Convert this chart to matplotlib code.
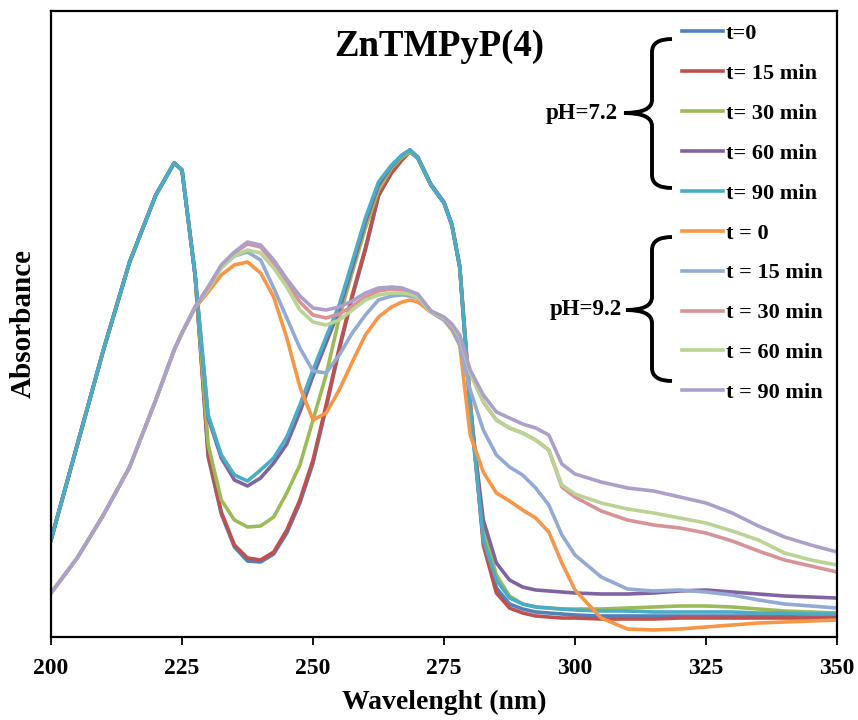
import matplotlib
matplotlib.use('Agg')
import matplotlib.pyplot as plt
import matplotlib.transforms as mtransforms
from matplotlib.path import Path
from matplotlib.patches import PathPatch

# data ==========================================================================
wl = [200, 205, 210, 215, 220, 223.5, 225, 227.5, 230, 232.5, 235, 237.5,
      240, 242.5, 245, 247.5, 250, 252.5, 255, 257.5, 260, 262.5, 265, 267,
      268.5, 270, 272.5, 275, 276.5, 278, 280, 282.5, 285, 287.5, 290, 292.5,
      295, 297.5, 300, 305, 310, 315, 320, 325, 330, 335, 340, 345, 350]

# pH = 7.2 (first part, 200-227.5 nm, is the same for all times)
head_72 = [0.194, 0.384, 0.574, 0.750, 0.884, 0.948, 0.934, 0.724]
ph72_t0 = head_72 + [0.360, 0.246, 0.180, 0.152, 0.150, 0.166, 0.208, 0.268, 0.348, 0.458,
                     0.574, 0.680, 0.774, 0.882, 0.930, 0.958, 0.974, 0.960, 0.906, 0.870,
                     0.826, 0.742, 0.464, 0.194, 0.098, 0.066, 0.056, 0.050, 0.048, 0.046,
                     0.044, 0.042, 0.042, 0.042, 0.042, 0.042, 0.042, 0.042, 0.042, 0.042, 0.042]
ph72_t15 = head_72 + [0.364, 0.250, 0.184, 0.158, 0.154, 0.170, 0.214, 0.274, 0.354, 0.464,
                      0.578, 0.684, 0.778, 0.884, 0.928, 0.954, 0.970, 0.958, 0.904, 0.868,
                      0.824, 0.740, 0.474, 0.184, 0.088, 0.058, 0.048, 0.042, 0.040, 0.038,
                      0.038, 0.036, 0.036, 0.036, 0.038, 0.038, 0.038, 0.038, 0.038, 0.038, 0.038]
ph72_t30 = head_72 + [0.384, 0.274, 0.234, 0.220, 0.222, 0.240, 0.288, 0.344, 0.434, 0.524,
                      0.638, 0.730, 0.818, 0.894, 0.938, 0.960, 0.970, 0.958, 0.904, 0.868,
                      0.824, 0.740, 0.464, 0.214, 0.124, 0.082, 0.066, 0.060, 0.058, 0.056,
                      0.056, 0.056, 0.058, 0.060, 0.062, 0.062, 0.060, 0.056, 0.052, 0.050, 0.048]
ph72_t60 = head_72 + [0.438, 0.358, 0.314, 0.302, 0.318, 0.348, 0.386, 0.450, 0.522, 0.588,
                      0.654, 0.740, 0.830, 0.904, 0.942, 0.964, 0.974, 0.958, 0.904, 0.868,
                      0.824, 0.740, 0.454, 0.234, 0.148, 0.114, 0.100, 0.094, 0.092, 0.090,
                      0.088, 0.086, 0.086, 0.088, 0.092, 0.094, 0.090, 0.086, 0.082, 0.080, 0.078]
ph72_t90 = head_72 + [0.444, 0.364, 0.324, 0.312, 0.334, 0.358, 0.400, 0.464, 0.534, 0.600,
                      0.664, 0.750, 0.838, 0.910, 0.944, 0.964, 0.974, 0.958, 0.904, 0.868,
                      0.824, 0.740, 0.454, 0.194, 0.114, 0.078, 0.066, 0.060, 0.058, 0.056,
                      0.054, 0.052, 0.052, 0.050, 0.050, 0.050, 0.050, 0.048, 0.048, 0.046, 0.046]

# pH = 9.2 (200-225 nm is the same for all times)
head_92 = [0.088, 0.158, 0.244, 0.340, 0.474, 0.574, 0.608]
ph92_t0 = head_92 + [0.658, 0.690, 0.724, 0.744, 0.750, 0.728, 0.680, 0.598, 0.500, 0.434, 0.448,
                     0.494, 0.550, 0.604, 0.640, 0.660, 0.670, 0.674, 0.670, 0.650, 0.634,
                     0.614, 0.584, 0.404, 0.330, 0.288, 0.272, 0.254, 0.238, 0.210, 0.148,
                     0.094, 0.038, 0.016, 0.014, 0.016, 0.020, 0.024, 0.028, 0.030, 0.032, 0.034]
ph92_t15 = head_92 + [0.660, 0.698, 0.740, 0.762, 0.770, 0.754, 0.698, 0.638, 0.578, 0.532, 0.528,
                      0.564, 0.608, 0.644, 0.674, 0.682, 0.684, 0.682, 0.678, 0.650, 0.634,
                      0.618, 0.584, 0.494, 0.414, 0.364, 0.340, 0.324, 0.298, 0.264, 0.204,
                      0.164, 0.120, 0.096, 0.092, 0.094, 0.090, 0.084, 0.074, 0.066, 0.062, 0.058]
ph92_t30 = head_92 + [0.660, 0.700, 0.742, 0.768, 0.786, 0.780, 0.748, 0.708, 0.670, 0.644, 0.638,
                      0.646, 0.662, 0.680, 0.692, 0.696, 0.694, 0.690, 0.684, 0.652, 0.638,
                      0.624, 0.600, 0.528, 0.470, 0.434, 0.418, 0.408, 0.394, 0.374, 0.300,
                      0.280, 0.252, 0.234, 0.224, 0.218, 0.208, 0.192, 0.172, 0.154, 0.142, 0.130]
ph92_t60 = head_92 + [0.660, 0.696, 0.738, 0.762, 0.774, 0.768, 0.738, 0.700, 0.654, 0.630, 0.624,
                      0.634, 0.654, 0.674, 0.684, 0.688, 0.688, 0.686, 0.680, 0.650, 0.638,
                      0.624, 0.600, 0.528, 0.470, 0.434, 0.418, 0.408, 0.394, 0.374, 0.304,
                      0.286, 0.268, 0.256, 0.248, 0.238, 0.228, 0.212, 0.194, 0.168, 0.154, 0.144]
ph92_t90 = head_92 + [0.660, 0.700, 0.744, 0.770, 0.790, 0.784, 0.754, 0.716, 0.682, 0.658, 0.654,
                      0.660, 0.672, 0.688, 0.698, 0.700, 0.698, 0.692, 0.686, 0.652, 0.640,
                      0.626, 0.604, 0.534, 0.484, 0.450, 0.438, 0.426, 0.418, 0.404, 0.346,
                      0.326, 0.310, 0.298, 0.292, 0.280, 0.268, 0.248, 0.222, 0.200, 0.184, 0.170]

series = [ph72_t0, ph72_t15, ph72_t30, ph72_t60, ph72_t90,
          ph92_t0, ph92_t15, ph92_t30, ph92_t60, ph92_t90]
labels = ['t=0', 't= 15 min', 't= 30 min', 't= 60 min', 't= 90 min',
          't = 0', 't = 15 min', 't = 30 min', 't = 60 min', 't = 90 min']
colors = ['#4F81BD', '#C0504D', '#9BBB59', '#8064A2', '#4BACC6',
          '#F79646', '#93AAD6', '#D79498', '#BBD393', '#ACA0CA']
#================================================================================

plt.rcParams['font.family'] = ['Liberation Serif', 'DejaVu Serif']
plt.rcParams['font.weight'] = 'bold'

W, H = 858, 720
fig = plt.figure(figsize=(W / 100, H / 100), dpi=100)
ax = fig.add_axes([51 / W, 1 - 637 / H, (837 - 51) / W, (637 - 11) / H])

lines = []
for y, lab, c in zip(series, labels, colors):
    ln, = ax.plot(wl, y, color=c, lw=2.6, label=lab, solid_joinstyle='round')
    lines.append(ln)

ax.set_xlim(200, 350)
ax.set_ylim(0, 1.252)
ax.set_xticks([200, 225, 250, 275, 300, 325, 350])
ax.set_yticks([])
ax.tick_params(axis='x', direction='out', length=6, width=1.3, pad=9, labelsize=17)
for sp in ax.spines.values():
    sp.set_linewidth(1.6)

ax.set_xlabel('Wavelenght (nm)', fontsize=20, fontweight='bold', labelpad=8)
ax.set_ylabel('Absorbance', fontsize=21, fontweight='bold', labelpad=10)

leg = ax.legend(handles=lines, loc='upper left', bbox_to_anchor=(0.803, 0.980),
                frameon=False, handlelength=1.85, handletextpad=0.12, labelspacing=0.87,
                borderpad=0, borderaxespad=0, prop={'size': 16, 'weight': 'bold'})

# braces, drawn in pixel coords (origin top left)
px = mtransforms.Affine2D().scale(1 / W, -1 / H).translate(0, 1) + fig.transFigure


def brace(x, y0, y1, ym, tip):
    verts = [(x + 20, y0), (x, y0), (x, y0 + 13), (x, ym - 13), (x, ym), (tip, ym),
             (x, ym), (x, ym + 13), (x, y1 - 13), (x, y1), (x + 20, y1)]
    codes = [Path.MOVETO, Path.CURVE3, Path.CURVE3, Path.LINETO, Path.CURVE3, Path.CURVE3,
             Path.CURVE3, Path.CURVE3, Path.LINETO, Path.CURVE3, Path.CURVE3]
    fig.add_artist(PathPatch(Path(verts, codes), transform=px, fill=False,
                             lw=2.8, edgecolor='black', capstyle='butt'))


brace(652, 39, 188, 113, 624)
brace(652, 237, 381, 310, 626)
fig.text(618 / W, 1 - 113 / H, 'pH=7.2', ha='right', va='center', fontsize=16.5, fontweight='bold')
fig.text(622 / W, 1 - 310 / H, 'pH=9.2', ha='right', va='center', fontsize=16.5, fontweight='bold')

fig.text(439 / W, 1 - 46 / H, 'ZnTMPyP(4)', ha='center', va='center', fontsize=26.5, fontweight='bold')

fig.savefig('out.png', dpi=100)
